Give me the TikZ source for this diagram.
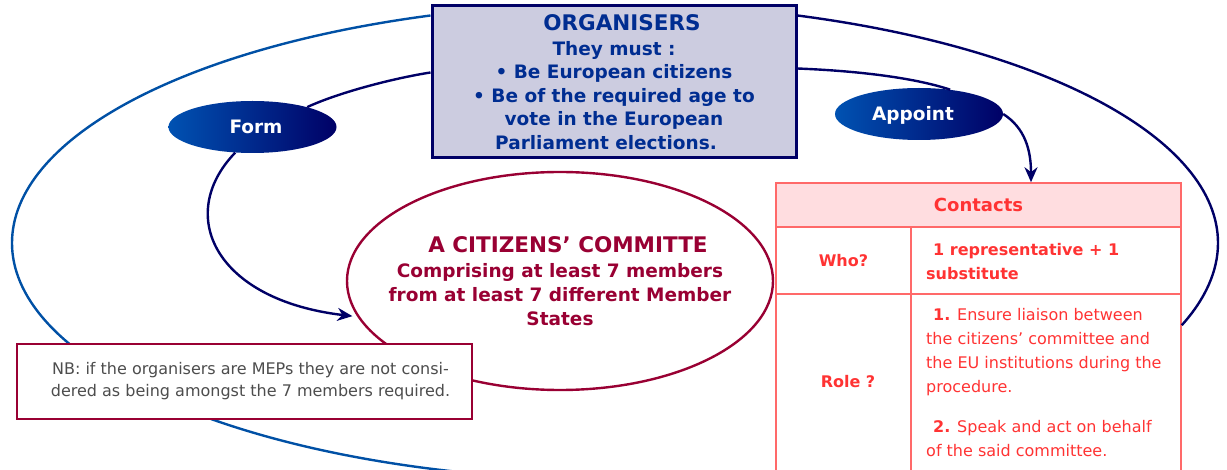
\documentclass[tikz,border=0pt]{standalone}
\usepackage{fontspec}
\setmainfont{DejaVu Sans}
\usetikzlibrary{shapes.geometric,arrows.meta}
\definecolor{outerblue}{RGB}{0,80,165}
\definecolor{navy}{RGB}{0,0,102}
\definecolor{verbleft}{RGB}{0,82,178}
\definecolor{orgfill}{RGB}{204,204,224}
\definecolor{orgtext}{RGB}{0,45,145}
\definecolor{crimson}{RGB}{153,0,51}
\definecolor{nbgray}{RGB}{77,77,77}
\definecolor{tred}{RGB}{255,51,51}
\definecolor{pinkfill}{RGB}{255,221,224}
\definecolor{tableline}{RGB}{255,105,105}
\begin{document}
\begin{tikzpicture}[x=1pt,y=-1pt,
  conn/.style={draw=navy,line width=2.4pt},
  arr/.style={conn,-{Stealth[length=15pt,width=13pt]}},
  verb/.style={ellipse,minimum width=168pt,minimum height=52pt,inner sep=0pt,
    left color=verbleft,right color=navy,text=white,
    font=\fontsize{18.5}{22}\selectfont\bfseries,text height=13.5pt,text depth=0pt},
  orgbox/.style={draw=navy,line width=3pt,fill=orgfill,minimum width=364pt,
    minimum height=152pt,inner sep=0pt,align=center,text=orgtext,
    font=\fontsize{18.5}{23.6}\selectfont\bfseries},
  commtext/.style={align=center,text=crimson,inner sep=0pt,
    font=\fontsize{18.5}{24}\selectfont\bfseries},
  nbbox/.style={draw=crimson,line width=2.8pt,fill=white,minimum width=455pt,
    minimum height=75pt,inner sep=0pt,align=center,text=nbgray,
    font=\fontsize{16}{22}\selectfont},
  cell/.style={draw=tableline,line width=1.5pt,inner sep=0pt,text=tred,
    font=\fontsize{16}{24}\selectfont\bfseries},
  celltext/.style={inner sep=0pt,align=left,text=tred,
    font=\fontsize{16}{24}\selectfont},
]
\useasboundingbox (0,0) rectangle (1227,470);
\clip (0,0) rectangle (1227,470);

% organisers
\node[orgbox] (org) at (614,82) {\hspace*{16pt}{\fontsize{21.5}{25}\selectfont ORGANISERS}\\[1.4pt]
  They must :\\
  • Be European citizens\\
  • Be of the required age to\\
  vote in the European\\
  Parliament elections.\hspace*{16pt}};

% verbs
\node[verb] (form) at (252.5,127) {\hspace*{7pt}Form};
\node[verb] (appoint) at (919,114) {Appoint\hspace*{12pt}};

% committee
\node[ellipse,draw=crimson,line width=2.4pt,fill=white,minimum width=426pt,
  minimum height=218pt,inner sep=0pt] (comm) at (560,281) {};
\node[commtext] (commtxt) at (560,281.6) {\hspace*{16pt}{\fontsize{21.5}{24}\selectfont A CITIZENS’ COMMITTE}\\[1pt]
  Comprising at least 7 members\\
  from at least 7 different Member\\
  States};

% contacts table
\node[cell,fill=pinkfill,minimum width=405pt,minimum height=44pt,
  font=\fontsize{18}{22}\selectfont\bfseries] (hdr) at (978.5,205) {Contacts};
\node[cell,minimum width=135pt,minimum height=67pt] (whoL) at (843.5,260.5) {Who?};
\node[cell,minimum width=270pt,minimum height=67pt] (whoR) at (1046,260.5) {};
\node[cell,minimum width=135pt,minimum height=186pt] (roleL) at (843.5,387) {};
\node[cell,minimum width=270pt,minimum height=186pt] (roleR) at (1046,387) {};
\node[celltext,anchor=north west,font=\fontsize{16}{24}\selectfont\bfseries] (whotxt) at (926,242.8)
  {\hspace*{7pt}1 representative + 1\\substitute};
\node[celltext,anchor=base,font=\fontsize{16}{24}\selectfont\bfseries] (roletitle) at (848,388) {Role ?};
\node[celltext,anchor=north west] (roletxt) at (926,307.8)
  {\hspace*{7pt}\textbf{1.} Ensure liaison between\\
   the citizens’ committee and\\
   the EU institutions during the\\
   procedure.\\[16pt]
   \hspace*{7pt}\textbf{2.} Speak and act on behalf\\
   of the said committee.};

% outer loop
\coordinate (lft) at (12,243);
\coordinate (bot) at (459,472);
\coordinate (rgt) at (1218,243);
\draw[draw=outerblue,line width=2.4pt] ([yshift=-11pt]org.north west)
  .. controls (181,48.3) and (12,139.6) .. (lft)
  .. controls (12,350.2) and (195.3,444.2) .. (bot);
\draw[conn] ([yshift=-11pt]org.north east)
  .. controls (1048,48.1) and (1218,139.6) .. (rgt)
  .. controls (1218,271.2) and (1205.2,299.2) .. ([yshift=-32pt]roleR.north east);

% inner connectors
\draw[conn] ([yshift=-68pt]org.north west) .. controls (395,78) and (340,92) .. (form.20);
\draw[conn] ([yshift=-64pt]org.north east) .. controls (860,71) and (915,78) .. (appoint.38);
\draw[arr,shorten >=5pt] (form.-124) .. controls (175,215) and (215,300) .. (comm.190);
\draw[arr] (appoint.east) .. controls (1025,128) and (1031,150) .. ([xshift=52.5pt]hdr.north);

% note
\node[nbbox] (nb) at (244.5,381.5) {\hspace*{12pt}NB: if the organisers are MEPs they are not consi-\\
  \hspace*{12pt}dered as being amongst the 7 members required.};
\end{tikzpicture}
\end{document}
